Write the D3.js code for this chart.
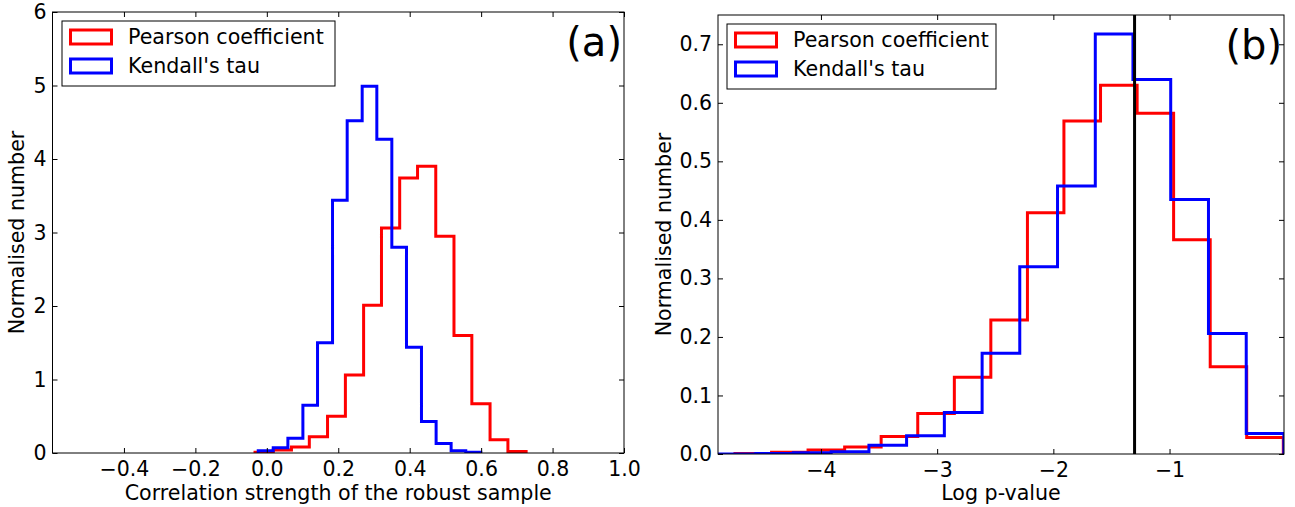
<!DOCTYPE html>
<meta charset="utf-8">
<script src="https://cdn.jsdelivr.net/npm/d3@7"></script>
<style>
  body { margin: 0; background: #fff; }
  svg text { font-family: 'DejaVu Sans', sans-serif; fill: #000; }
</style>
<div id="chart"></div>
<script>
  // panel (a): correlation strength histograms
  const aPearsonEdges = [-0.033, 0.018, 0.069, 0.119, 0.170, 0.220, 0.271, 0.321, 0.372, 0.422, 0.473, 0.524, 0.574, 0.625, 0.675, 0.726];
  const aPearsonHeights = [0.01, 0.04, 0.08, 0.22, 0.50, 1.06, 2.01, 3.06, 3.74, 3.90, 2.95, 1.60, 0.67, 0.18, 0.02];
  const aKendallEdges = [-0.024, 0.018, 0.059, 0.101, 0.142, 0.184, 0.225, 0.267, 0.308, 0.350, 0.391, 0.433, 0.474, 0.516, 0.557, 0.599];
  const aKendallHeights = [0.03, 0.07, 0.20, 0.65, 1.50, 3.44, 4.52, 4.99, 4.27, 2.80, 1.44, 0.43, 0.13, 0.03, 0.01];
  const aXTicks = [-0.4, -0.2, 0.0, 0.2, 0.4, 0.6, 0.8, 1.0];
  const aYTicks = [0, 1, 2, 3, 4, 5, 6];

  // panel (b): log p-value histograms
  const bPearsonEdges = [-4.740, -4.425, -4.111, -3.796, -3.482, -3.167, -2.852, -2.538, -2.223, -1.909, -1.594, -1.279, -0.965, -0.650, -0.336, -0.021];
  const bPearsonHeights = [0.001, 0.003, 0.007, 0.012, 0.030, 0.069, 0.131, 0.229, 0.412, 0.569, 0.630, 0.582, 0.366, 0.149, 0.028];
  const bKendallEdges = [-4.886, -4.561, -4.237, -3.912, -3.587, -3.263, -2.938, -2.613, -2.289, -1.964, -1.639, -1.315, -0.990, -0.665, -0.340, -0.016];
  const bKendallHeights = [0.0, 0.001, 0.002, 0.004, 0.015, 0.031, 0.071, 0.172, 0.320, 0.458, 0.7175, 0.640, 0.435, 0.206, 0.035];
  const bXTicks = [-4, -3, -2, -1];
  const bYTicks = [0.0, 0.1, 0.2, 0.3, 0.4, 0.5, 0.6, 0.7];
  const bCutLine = Math.log10(0.05);

  const legendLabels = ['Pearson coefficient', "Kendall's tau"];
  const colors = ['#ff0000', '#0000ff'];

  const svg = d3.select('#chart').append('svg')
    .attr('width', 1295).attr('height', 507);

  const minus = s => s.replace('-', '\u2212');

  function stepPoints(edges, heights) {
    const pts = [[edges[0], 0]];
    heights.forEach((h, i) => { pts.push([edges[i], h]); pts.push([edges[i + 1], h]); });
    pts.push([edges[edges.length - 1], 0]);
    return pts;
  }

  function panel(cfg) {
    const x = d3.scaleLinear().domain(cfg.xDomain).range([cfg.left, cfg.right]);
    const y = d3.scaleLinear().domain(cfg.yDomain).range([cfg.bottom, cfg.top]);
    const g = svg.append('g');

    const clipId = 'clip' + cfg.name;
    svg.append('clipPath').attr('id', clipId).append('rect')
      .attr('x', cfg.left).attr('y', cfg.top)
      .attr('width', cfg.right - cfg.left).attr('height', cfg.bottom - cfg.top);

    const line = d3.line().x(d => x(d[0])).y(d => y(d[1]));
    const series = g.append('g').attr('clip-path', `url(#${clipId})`);
    cfg.series.forEach((s, i) => {
      series.append('path')
        .attr('d', line(stepPoints(s.edges, s.heights)))
        .attr('fill', 'none')
        .attr('stroke', colors[i])
        .attr('stroke-width', 3)
        .attr('stroke-linejoin', 'miter');
    });
    if (cfg.vline !== undefined) {
      series.append('line')
        .attr('x1', x(cfg.vline)).attr('x2', x(cfg.vline))
        .attr('y1', cfg.top).attr('y2', cfg.bottom)
        .attr('stroke', '#000').attr('stroke-width', 3);
    }

    // axes with inward ticks on all sides
    const bottom = g.append('g').attr('transform', `translate(0,${cfg.bottom})`)
      .call(d3.axisBottom(x).tickValues(cfg.xTicks).tickFormat(cfg.xFormat)
        .tickSizeInner(-5).tickSizeOuter(0).tickPadding(8));
    const top = g.append('g').attr('transform', `translate(0,${cfg.top})`)
      .call(d3.axisTop(x).tickValues(cfg.xTicks).tickFormat('')
        .tickSizeInner(-5).tickSizeOuter(0));
    const left = g.append('g').attr('transform', `translate(${cfg.left},0)`)
      .call(d3.axisLeft(y).tickValues(cfg.yTicks).tickFormat(cfg.yFormat)
        .tickSizeInner(-5).tickSizeOuter(0).tickPadding(6));
    const right = g.append('g').attr('transform', `translate(${cfg.right},0)`)
      .call(d3.axisRight(y).tickValues(cfg.yTicks).tickFormat('')
        .tickSizeInner(-5).tickSizeOuter(0));
    [bottom, top, left, right].forEach(ax => {
      ax.select('.domain').remove();
      ax.selectAll('line').attr('stroke', '#000');
      ax.selectAll('text').style('font-size', '20.5px').style('font-family', "'DejaVu Sans', sans-serif");
    });

    g.append('rect')
      .attr('x', cfg.left).attr('y', cfg.top)
      .attr('width', cfg.right - cfg.left).attr('height', cfg.bottom - cfg.top)
      .attr('fill', 'none').attr('stroke', '#000').attr('stroke-width', 1);

    // legend
    const lg = g.append('g').attr('transform', `translate(${cfg.legendX},${cfg.legendY})`);
    lg.append('rect').attr('x', 0).attr('y', 0).attr('width', cfg.legendW).attr('height', 65)
      .attr('fill', '#fff').attr('stroke', '#000').attr('stroke-width', 1);
    legendLabels.forEach((t, i) => {
      lg.append('rect').attr('x', 8.5).attr('y', 9 + i * 29).attr('width', 41).attr('height', 14)
        .attr('fill', 'none').attr('stroke', colors[i]).attr('stroke-width', 3);
      lg.append('text').attr('x', 66).attr('y', 16 + i * 29).attr('dy', '0.35em')
        .style('font-size', '20.6px').text(t);
    });

    g.append('text').attr('x', cfg.right - 2).attr('y', cfg.top + 30)
      .attr('text-anchor', 'end').attr('dy', '0.35em')
      .style('font-size', '40px').text(cfg.tag);

    g.append('text').attr('x', (cfg.left + cfg.right) / 2).attr('y', 500)
      .attr('text-anchor', 'middle').style('font-size', '20.6px').text(cfg.xLabel);
    g.append('text')
      .attr('transform', `translate(${cfg.yLabelX},${(cfg.top + cfg.bottom) / 2}) rotate(-90)`)
      .attr('text-anchor', 'middle').attr('dy', '0.35em')
      .style('font-size', '20.6px').text('Normalised number');
  }

  panel({
    name: 'a', left: 52.5, right: 624, top: 12, bottom: 453,
    xDomain: [-0.6, 1.0], yDomain: [0, 6],
    xTicks: aXTicks, yTicks: aYTicks,
    xFormat: d => minus(d3.format('.1f')(d)), yFormat: d3.format('d'),
    series: [{edges: aPearsonEdges, heights: aPearsonHeights},
             {edges: aKendallEdges, heights: aKendallHeights}],
    legendX: 62, legendY: 21, legendW: 273, tag: '(a)',
    xLabel: 'Correlation strength of the robust sample', yLabelX: 17
  });

  panel({
    name: 'b', left: 718, right: 1284, top: 15, bottom: 454,
    xDomain: [-4.886, -0.015], yDomain: [0, 0.75],
    xTicks: bXTicks, yTicks: bYTicks,
    xFormat: d => minus(d3.format('d')(d)), yFormat: d3.format('.1f'),
    series: [{edges: bPearsonEdges, heights: bPearsonHeights},
             {edges: bKendallEdges, heights: bKendallHeights}],
    vline: bCutLine,
    legendX: 727, legendY: 24, legendW: 269, tag: '(b)',
    xLabel: 'Log p-value', yLabelX: 664
  });
</script>
